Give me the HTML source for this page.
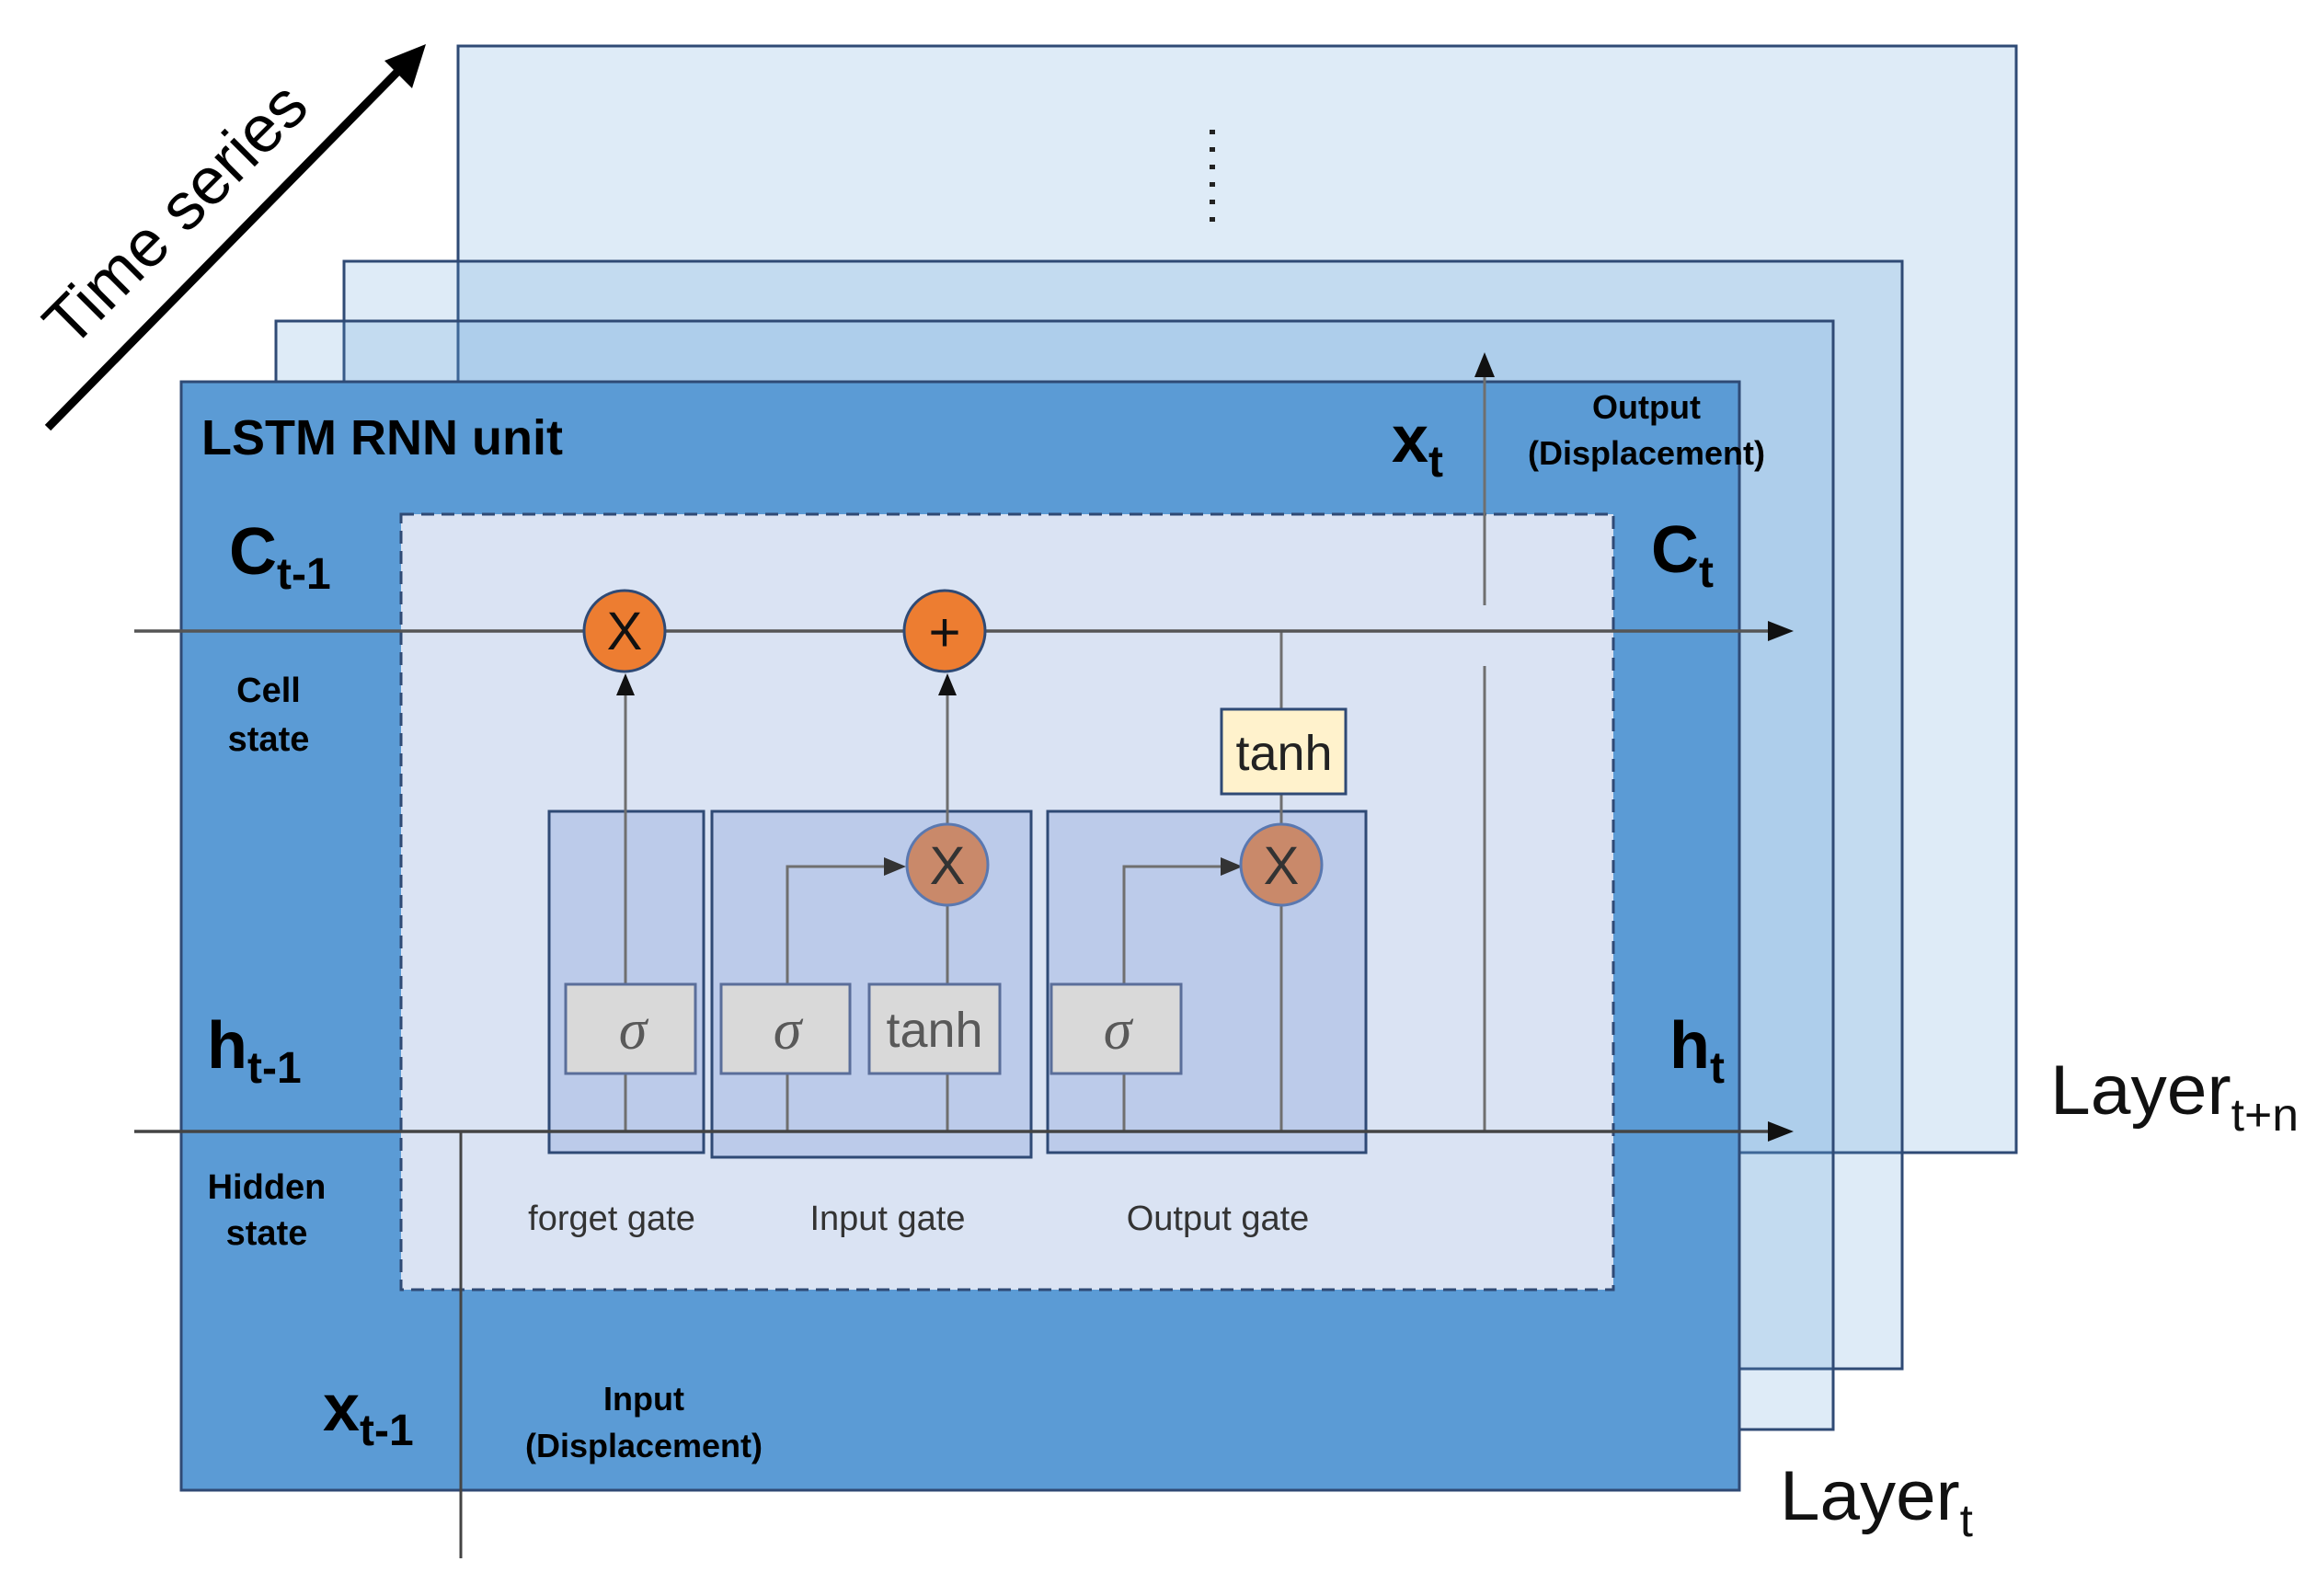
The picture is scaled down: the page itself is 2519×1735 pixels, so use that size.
<!DOCTYPE html>
<html><head><meta charset="utf-8"><style>
html,body{margin:0;padding:0;background:#fff;}
svg{display:block;font-family:"Liberation Sans",sans-serif;}
</style></head><body>
<svg width="2519" height="1735" viewBox="0 0 2519 1735" xmlns="http://www.w3.org/2000/svg">
<!-- layered boxes -->
<rect x="498" y="50" width="1694" height="1203" fill="rgba(91,155,213,0.2)" stroke="#2f4a75" stroke-width="3"/>
<rect x="374" y="284" width="1694" height="1204" fill="rgba(91,155,213,0.2)" stroke="#2f4a75" stroke-width="3"/>
<rect x="300" y="349" width="1693" height="1205" fill="rgba(91,155,213,0.2)" stroke="#2f4a75" stroke-width="3"/>
<rect x="197" y="415" width="1694" height="1205" fill="#5b9bd5" stroke="#2f4a75" stroke-width="3"/>
<!-- dotted -->
<line x1="1318" y1="141" x2="1318" y2="245" stroke="#222" stroke-width="6" stroke-dasharray="5,14"/>
<!-- time series arrow -->
<line x1="52" y1="465" x2="440" y2="70" stroke="#000" stroke-width="9"/>
<polygon points="463,48 448,96 418,66" fill="#000"/>
<text x="0" y="0" font-size="72" transform="translate(208,250) rotate(-45)" text-anchor="middle" fill="#000">Time series</text>
<!-- dashed area -->
<rect x="436" y="559" width="1318" height="843" fill="#dae3f3" stroke="#2f4a75" stroke-width="3" stroke-dasharray="14,8"/>
<!-- gate boxes -->
<rect x="597" y="882" width="168" height="371" fill="#bccbea" stroke="#2f4a75" stroke-width="3"/>
<rect x="774" y="882" width="347" height="376" fill="#bccbea" stroke="#2f4a75" stroke-width="3"/>
<rect x="1139" y="882" width="346" height="371" fill="#bccbea" stroke="#2f4a75" stroke-width="3"/>
<!-- internal lines -->
<g stroke="#6f6f6f" stroke-width="3" fill="none">
<line x1="680" y1="1230" x2="680" y2="752"/>
<polyline points="856,1230 856,942 975,942"/>
<line x1="1030" y1="1230" x2="1030" y2="984"/>
<line x1="1030" y1="896" x2="1030" y2="752"/>
<polyline points="1222,1230 1222,942 1340,942"/>
<polyline points="1393,984 1393,1230"/>
<line x1="1393" y1="863" x2="1393" y2="686"/>
<line x1="1393" y1="896" x2="1393" y2="863"/>
<line x1="1614" y1="724" x2="1614" y2="1230"/>
<line x1="1614" y1="658" x2="1614" y2="405"/>
</g>
<polygon points="1614,383 1603,410 1625,410" fill="#111"/>
<polygon points="680,732 670,756 690,756" fill="#111"/>
<polygon points="1030,732 1020,756 1040,756" fill="#111"/>
<polygon points="985,942 961,932 961,952" fill="#333"/>
<polygon points="1351,942 1327,932 1327,952" fill="#333"/>
<!-- main lines -->
<line x1="146" y1="686" x2="1925" y2="686" stroke="#555" stroke-width="3.5"/>
<polygon points="1950,686 1922,675 1922,697" fill="#111"/>
<line x1="146" y1="1230" x2="1925" y2="1230" stroke="#444" stroke-width="3.5"/>
<polygon points="1950,1230 1922,1219 1922,1241" fill="#111"/>
<line x1="501" y1="1230" x2="501" y2="1694" stroke="#444" stroke-width="3"/>
<!-- sigma/tanh boxes -->
<g fill="#d9d9d9" stroke="#5a6e9a" stroke-width="3">
<rect x="615" y="1070" width="141" height="97"/>
<rect x="784" y="1070" width="140" height="97"/>
<rect x="945" y="1070" width="142" height="97"/>
<rect x="1143" y="1070" width="141" height="97"/>
</g>
<g fill="#595959" font-size="62" font-style="italic" font-family="'Liberation Serif',serif" text-anchor="middle">
<text x="688" y="1140">σ</text><text x="856" y="1140">σ</text><text x="1215" y="1140">σ</text>
</g>
<text x="1016" y="1138" font-size="54" fill="#595959" text-anchor="middle">tanh</text>
<!-- tanh yellow -->
<rect x="1328" y="771" width="135" height="92" fill="#fff2cc" stroke="#2f4a75" stroke-width="3"/>
<text x="1396" y="837" font-size="54" fill="#222" text-anchor="middle">tanh</text>
<!-- circles -->
<circle cx="679" cy="686" r="44" fill="#ed7d31" stroke="#2f4a75" stroke-width="3"/>
<text x="679" y="706" font-size="58" fill="#111" text-anchor="middle">X</text>
<circle cx="1027" cy="686" r="44" fill="#ed7d31" stroke="#2f4a75" stroke-width="3"/>
<text x="1027" y="708" font-size="60" fill="#111" text-anchor="middle">+</text>
<circle cx="1030" cy="940" r="44" fill="#c9896a" stroke="#5a78b0" stroke-width="3"/>
<text x="1030" y="961" font-size="58" fill="#333" text-anchor="middle">X</text>
<circle cx="1393" cy="940" r="44" fill="#c9896a" stroke="#5a78b0" stroke-width="3"/>
<text x="1393" y="961" font-size="58" fill="#333" text-anchor="middle">X</text>
<!-- labels -->
<g font-weight="bold" fill="#000">
<text x="219" y="494" font-size="54">LSTM RNN unit</text>
<text x="249" y="624" font-size="72">C<tspan font-size="48" dy="16">t-1</tspan></text>
<text x="1795" y="622" font-size="72">C<tspan font-size="48" dy="16">t</tspan></text>
<text x="225" y="1161" font-size="72">h<tspan font-size="48" dy="16">t-1</tspan></text>
<text x="1815" y="1161" font-size="72">h<tspan font-size="48" dy="16">t</tspan></text>
<text x="351" y="1555" font-size="72">x<tspan font-size="48" dy="16">t-1</tspan></text>
<text x="1513" y="502" font-size="72">x<tspan font-size="48" dy="16">t</tspan></text>
<g font-size="38" text-anchor="middle">
<text x="292" y="763">Cell</text><text x="292" y="816">state</text>
<text x="290" y="1303">Hidden</text><text x="290" y="1353">state</text>
</g>
<g font-size="36" text-anchor="middle">
<text x="700" y="1533">Input</text><text x="700" y="1584">(Displacement)</text>
<text x="1790" y="455">Output</text><text x="1790" y="505">(Displacement)</text>
</g>
</g>
<g font-size="38" fill="#333" text-anchor="middle">
<text x="665" y="1337">forget gate</text>
<text x="965" y="1337">Input gate</text>
<text x="1324" y="1337">Output gate</text>
</g>
<text x="2229" y="1211" font-size="76" fill="#111" textLength="270" lengthAdjust="spacingAndGlyphs">Layer<tspan font-size="50" dy="18">t+n</tspan></text>
<text x="1935" y="1652" font-size="76" fill="#111" textLength="210" lengthAdjust="spacingAndGlyphs">Layer<tspan font-size="50" dy="18">t</tspan></text>
</svg>
</body></html>
